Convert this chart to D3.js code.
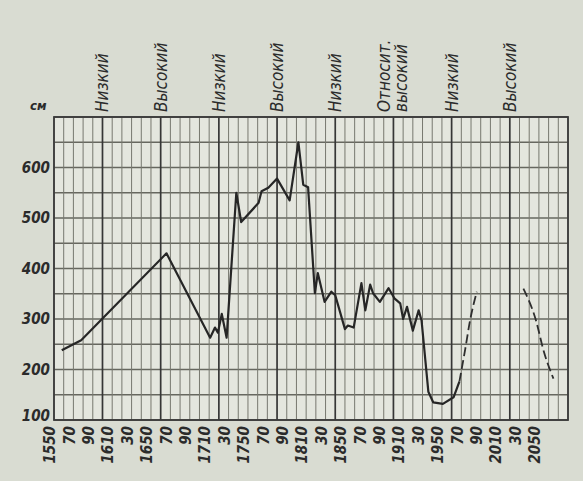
<!DOCTYPE html>
<html>
<head>
<meta charset="utf-8">
<script src="https://cdn.jsdelivr.net/npm/d3@7"></script>
<style>
body { margin: 0; background: #d9dcd2; }
svg { display: block; }
.lbl { font-family: "Liberation Sans Narrow", "DejaVu Sans Condensed", sans-serif; font-style: italic; fill: #2b2b2b; }
</style>
</head>
<body>
<svg class="chart" width="583" height="481"></svg>
<script>
/* observed level, cm */
const years  = [1558, 1578, 1666, 1711, 1716, 1719, 1723, 1728, 1738, 1743, 1761, 1764, 1771, 1780, 1793,
                1802, 1807, 1812, 1819, 1822, 1829, 1836, 1840, 1843, 1850, 1853, 1859, 1867, 1871, 1876,
                1879, 1886, 1895, 1901, 1907, 1910, 1914, 1920, 1926, 1929, 1936, 1941, 1951, 1962, 1968]
const levels = [238, 258, 430, 263, 283, 273, 310, 263, 550, 492, 530, 553, 560, 578, 535,
                650, 566, 561, 351, 391, 334, 354, 347, 327, 280, 287, 283, 371, 317, 368,
                351, 334, 361, 341, 331, 300, 324, 277, 317, 297, 156, 135, 132, 145, 176]

/* forecasts (dashed) */
const forecastYears1  = [1968, 1974, 1979, 1986]
const forecastLevels1 = [176, 240, 297, 354]
const forecastYears2  = [2034, 2047, 2055, 2065]
const forecastLevels2 = [360, 297, 236, 182]

/* axis labels */
const tickYears  = [1550, 1570, 1590, 1610, 1630, 1650, 1670, 1690, 1710, 1730, 1750, 1770, 1790,
                    1810, 1830, 1850, 1870, 1890, 1910, 1930, 1950, 1970, 1990, 2010, 2030, 2050]
const tickLabels = ["1550", "70", "90", "1610", "30", "1650", "70", "90", "1710", "30", "1750", "70", "90",
                    "1810", "30", "1850", "70", "90", "1910", "30", "1950", "70", "90", "2010", "30", "2050"]
const levelTicks = [100, 200, 300, 400, 500, 600]

/* periods */
const periodYears  = [1600, 1660, 1720, 1780, 1840, 1900, 1960, 2020]
const periodLabels = ["Низкий", "Высокий", "Низкий", "Высокий", "Низкий", "Относит.|высокий", "Низкий", "Высокий"]

const plotLeft = 54, plotRight = 568, plotTop = 117, plotBottom = 420

const x = d3.scaleLinear().domain([1550, 2080]).range([plotLeft, plotRight])
const y = d3.scaleLinear().domain([100, 700]).range([plotBottom, plotTop])

const svg = d3.select("svg.chart")

svg.append("rect")
    .attr("x", plotLeft).attr("y", plotTop)
    .attr("width", plotRight - plotLeft).attr("height", plotBottom - plotTop)
    .attr("fill", "#e4e6de")

/* grid */
svg.append("g").selectAll("line")
    .data(d3.range(100, 701, 50))
    .enter().append("line")
    .attr("x1", plotLeft).attr("x2", plotRight)
    .attr("y1", d => y(d)).attr("y2", d => y(d))
    .attr("stroke", "#66675f").attr("stroke-width", 1.3)

svg.append("g").selectAll("line")
    .data(d3.range(1550, 2081, 10))
    .enter().append("line")
    .attr("x1", d => x(d)).attr("x2", d => x(d))
    .attr("y1", plotTop).attr("y2", plotBottom)
    .attr("stroke", d => periodYears.includes(d) ? "#363636" : "#77786f")
    .attr("stroke-width", d => periodYears.includes(d) ? 1.7 : 1)

svg.append("rect")
    .attr("x", plotLeft).attr("y", plotTop)
    .attr("width", plotRight - plotLeft).attr("height", plotBottom - plotTop)
    .attr("fill", "none").attr("stroke", "#3a3a3a").attr("stroke-width", 1.8)

/* axes */
const xAxis = svg.append("g")
    .attr("transform", "translate(0," + plotBottom + ")")
    .call(d3.axisBottom(x).tickValues(tickYears).tickSize(0).tickFormat((d, i) => tickLabels[i]))
xAxis.select(".domain").remove()
xAxis.selectAll("text")
    .attr("class", "lbl")
    .attr("transform", "rotate(-90)")
    .attr("text-anchor", "end")
    .attr("x", -6).attr("y", 0).attr("dy", "0.05em")
    .style("font-size", "15px").style("font-weight", "bold")

const yAxis = svg.append("g")
    .attr("transform", "translate(" + plotLeft + ",0)")
    .call(d3.axisLeft(y).tickValues(levelTicks).tickSize(0).tickPadding(4))
yAxis.select(".domain").remove()
yAxis.selectAll("text")
    .attr("class", "lbl")
    .attr("dy", d => d === 100 ? "0.05em" : "0.32em")
    .style("font-size", "15px").style("font-weight", "bold")

svg.append("text")
    .attr("class", "lbl")
    .attr("x", 30).attr("y", 110)
    .style("font-size", "13px").style("font-weight", "bold")
    .text("см")

/* period labels */
const period = svg.append("g").selectAll("text")
    .data(periodYears)
    .enter().append("text")
    .attr("class", "lbl")
    .attr("transform", d => "translate(" + x(d) + "," + (plotTop - 5) + ") rotate(-90)")
    .attr("text-anchor", "start")
    .style("font-size", "17px")

period.each(function(d, i) {
    const parts = periodLabels[i].split("|")
    const t = d3.select(this)
    parts.forEach((p, k) => {
        t.append("tspan")
            .attr("x", 0)
            .attr("dy", k === 0 ? (parts.length > 1 ? "-0.2em" : "0.35em") : "1.0em")
            .text(p)
    })
})

/* level line */
const line = d3.line()
    .x(d => x(d[0]))
    .y(d => y(d[1]))

svg.append("path")
    .datum(d3.zip(years, levels))
    .attr("d", line)
    .attr("fill", "none")
    .attr("stroke", "#262626")
    .attr("stroke-width", 2.2)
    .attr("stroke-linejoin", "round")

svg.append("path")
    .datum(d3.zip(forecastYears1, forecastLevels1))
    .attr("d", line.curve(d3.curveMonotoneX))
    .attr("fill", "none")
    .attr("stroke", "#2e2e2e")
    .attr("stroke-width", 1.8)
    .attr("stroke-dasharray", "9,4")

svg.append("path")
    .datum(d3.zip(forecastYears2, forecastLevels2))
    .attr("d", line.curve(d3.curveMonotoneX))
    .attr("fill", "none")
    .attr("stroke", "#2e2e2e")
    .attr("stroke-width", 1.8)
    .attr("stroke-dasharray", "9,4")
</script>
</body>
</html>
